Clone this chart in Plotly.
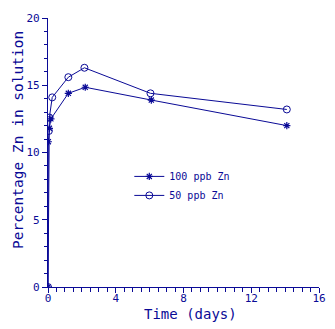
import plotly.graph_objects as go

time_100 = [0, 0.02, 0.08, 0.17, 1.2, 2.2, 6.1, 14.1]
pct_100 = [0, 10.8, 11.8, 12.5, 14.4, 14.85, 13.9, 12.0]
time_50 = [0, 0.05, 0.08, 0.25, 1.2, 2.15, 6.05, 14.1]
pct_50 = [0, 11.6, 12.6, 14.1, 15.6, 16.3, 14.4, 13.2]
names = ["100 ppb Zn", "50 ppb Zn"]
x_title = "Time (days)"
y_title = "Percentage Zn in solution"

C = "#0a0a96"
FONT = "DejaVu Sans Mono"

fig = go.Figure()
fig.add_trace(go.Scatter(x=time_100, y=pct_100, name=names[0], mode="lines+markers",
                         line=dict(color=C, width=1),
                         marker=dict(symbol="asterisk-open", size=6, color=C, line=dict(color=C, width=1.2))))
fig.add_trace(go.Scatter(x=time_50, y=pct_50, name=names[1], mode="lines+markers",
                         line=dict(color=C, width=1),
                         marker=dict(symbol="circle-open", size=7, color=C, line=dict(color=C, width=1))))

axis_common = dict(showgrid=False, zeroline=False, showline=True, linecolor=C, linewidth=1.2,
                   ticks="outside", tickcolor=C, ticklen=5, tickwidth=1, automargin=False,
                   tickfont=dict(family=FONT, size=11, color=C))
fig.update_xaxes(range=[0, 16], tickvals=[0, 4, 8, 12, 16], ticklabelstandoff=-4,
                 minor=dict(dtick=0.5, ticks="outside", ticklen=4, tickcolor=C),
                 **axis_common)
fig.update_yaxes(range=[0, 20], tickvals=[0, 5, 10, 15, 20],
                 minor=dict(dtick=1, ticks="outside", ticklen=3, tickcolor=C),
                 **axis_common)

fig.add_annotation(text=x_title, xref="paper", yref="paper", x=0.524, y=-0.1,
                   showarrow=False, xanchor="center", yanchor="middle", borderpad=0,
                   font=dict(family=FONT, size=14, color=C))
fig.add_annotation(text=y_title, xref="paper", yref="paper", x=-0.111, y=0.546, textangle=-90,
                   showarrow=False, xanchor="center", yanchor="middle",
                   font=dict(family=FONT, size=14.5, color=C))

fig.update_layout(width=335, height=329, margin=dict(l=48, r=16, t=18, b=42),
                  paper_bgcolor="white", plot_bgcolor="white",
                  showlegend=True,
                  legend=dict(x=0.3, y=0.465, xanchor="left", yanchor="top",
                              bgcolor="rgba(0,0,0,0)", font=dict(family=FONT, size=10, color=C),
                              itemwidth=30, tracegroupgap=0))
fig.write_html("out.html")
